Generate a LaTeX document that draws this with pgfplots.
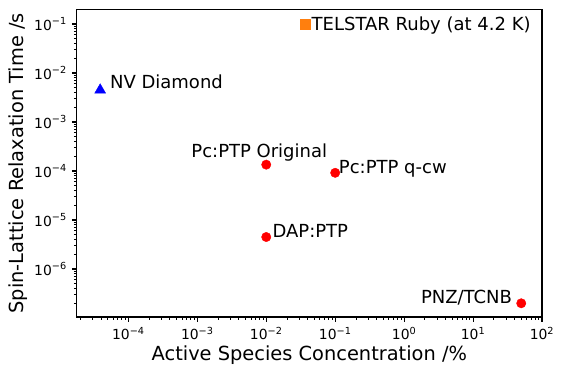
\documentclass[border=0pt]{standalone}
\usepackage{fontspec}
\setmainfont{DejaVu Sans}
\usepackage{pgfplots}
\pgfplotsset{compat=1.18}
\usetikzlibrary{calc}
\definecolor{mplorange}{HTML}{FF7F0E}
\newcommand\tl[1]{10\textsuperscript{#1}}
\newcommand\annot{\fontsize{18}{20}\selectfont}

\begin{document}
\begin{tikzpicture}
\begin{axis}[
    scale only axis,
    width=465.3pt, height=307.5pt,
    xmode=log, ymode=log,
    xmin=1.78e-5, xmax=100,
    ymin=1.05e-7, ymax=0.198,
    xtick={1e-4,1e-3,1e-2,1e-1,1,10,100},
    xticklabels={\tl{−4},\tl{−3},\tl{−2},\tl{−1},\tl{0},\tl{1},\tl{2}},
    ytick={1e-6,1e-5,1e-4,1e-3,1e-2,1e-1},
    yticklabels={\tl{−6},\tl{−5},\tl{−4},\tl{−3},\tl{−2},\tl{−1}},
    minor xtick={2e-5,3e-5,4e-5,5e-5,6e-5,7e-5,8e-5,9e-5,
        2e-4,3e-4,4e-4,5e-4,6e-4,7e-4,8e-4,9e-4,
        2e-3,3e-3,4e-3,5e-3,6e-3,7e-3,8e-3,9e-3,
        2e-2,3e-2,4e-2,5e-2,6e-2,7e-2,8e-2,9e-2,
        0.2,0.3,0.4,0.5,0.6,0.7,0.8,0.9,
        2,3,4,5,6,7,8,9,
        20,30,40,50,60,70,80,90},
    minor ytick={2e-7,3e-7,4e-7,5e-7,6e-7,7e-7,8e-7,9e-7,
        2e-6,3e-6,4e-6,5e-6,6e-6,7e-6,8e-6,9e-6,
        2e-5,3e-5,4e-5,5e-5,6e-5,7e-5,8e-5,9e-5,
        2e-4,3e-4,4e-4,5e-4,6e-4,7e-4,8e-4,9e-4,
        2e-3,3e-3,4e-3,5e-3,6e-3,7e-3,8e-3,9e-3,
        2e-2,3e-2,4e-2,5e-2,6e-2,7e-2,8e-2,9e-2},
    tick pos=left,
    tick align=outside,
    major tick length=4.9pt,
    minor tick length=2.8pt,
    major tick style={line width=1.1pt, black},
    minor tick style={line width=0.85pt, black},
    axis line style={line width=1.1pt},
    tick label style={font=\fontsize{13.9}{16}\selectfont},
    xticklabel style={anchor=north, inner sep=0pt, yshift=-4.9pt},
    yticklabel style={anchor=east, inner sep=0pt, xshift=-4.9pt},
    xlabel={Active Species Concentration /\%},
    ylabel={Spin-Lattice Relaxation Time /s},
    every axis x label/.style={at={(axis description cs:0.5,0)}, anchor=center,
        yshift=-38.5pt, font=\fontsize{19.4}{22}\selectfont},
    every axis y label/.style={at={(axis description cs:0,0.5)}, anchor=center,
        rotate=90, yshift=58.2pt, font=\fontsize{19.4}{22}\selectfont},
    clip=false,
]
\coordinate (ll) at (rel axis cs:0,0);
\coordinate (ur) at (rel axis cs:1,1);

% pulsed / triplet DNP systems
\addplot[only marks, mark=*, mark size=4.7pt, color=red] coordinates {
    (1e-2,1.35e-4)
    (1e-1,9.2e-5)
    (1e-2,4.5e-6)
    (50,2e-7)
};
% NV diamond
\addplot[only marks, mark=triangle*, mark size=6.3pt, color=blue] coordinates {
    (3.9e-5,4.5e-3)
};
% ruby
\addplot[only marks, mark=square*, mark size=4.85pt, color=mplorange] coordinates {
    (0.037,0.1)
};

\node[anchor=base west, inner sep=0pt, font=\annot, xshift=6.1pt, yshift=-6pt]
    at (axis cs:0.037,0.1) {TELSTAR Ruby (at 4.2 K)};
\node[anchor=base west, inner sep=0pt, font=\annot, xshift=9.7pt]
    at (axis cs:3.9e-5,4.87e-3) {NV Diamond};
\node[anchor=base west, inner sep=0pt, font=\annot, xshift=-75pt, yshift=7.6pt]
    at (axis cs:1e-2,1.35e-4) {Pc:PTP Original};
\node[anchor=base west, inner sep=0pt, font=\annot, xshift=3.6pt, yshift=-0.6pt]
    at (axis cs:1e-1,9.2e-5) {Pc:PTP q-cw};
\node[anchor=base west, inner sep=0pt, font=\annot, xshift=6.1pt]
    at (axis cs:1e-2,4.5e-6) {DAP:PTP};
\node[anchor=base east, inner sep=0pt, font=\annot, xshift=-9pt, yshift=-0.7pt]
    at (axis cs:50,2e-7) {PNZ/TCNB};
\end{axis}
\pgfresetboundingbox
\path ($(ll)+(-76.7pt,-58pt)$) rectangle ($(ur)+(21pt,9.5pt)$);
\end{tikzpicture}
\end{document}
